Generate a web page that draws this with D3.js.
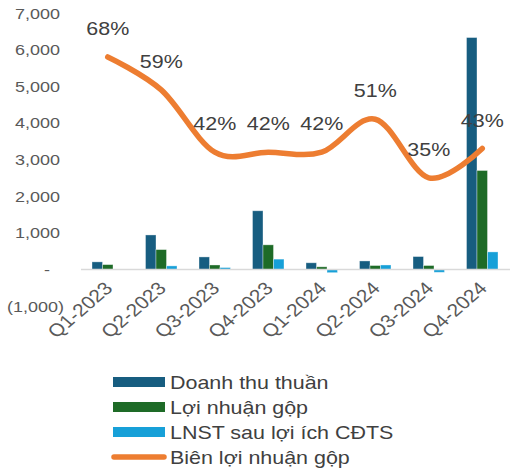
<!DOCTYPE html>
<html>
<head>
<meta charset="utf-8">
<script src="https://cdn.jsdelivr.net/npm/d3@7"></script>
<style>
  body { margin: 0; background: #fff; }
  text { font-family: "Liberation Sans", Arial, sans-serif; }
</style>
</head>
<body>
<div id="chart"></div>
<script>
var w = 511;
var h = 474;

// data
var quarters = ["Q1-2023", "Q2-2023", "Q3-2023", "Q4-2023", "Q1-2024", "Q2-2024", "Q3-2024", "Q4-2024"];
var doanhThu = [205, 940, 340, 1600, 180, 230, 350, 6330];
var loiNhuanGop = [130, 540, 120, 670, 70, 105, 105, 2700];
var lnst = [0, 95, 50, 280, -90, 120, -80, 477];
var bienLN = [0.68, 0.59, 0.42, 0.42, 0.42, 0.51, 0.35, 0.43];
var yTicks = [-1000, 0, 1000, 2000, 3000, 4000, 5000, 6000, 7000];
var seriesNames = ["Doanh thu thuần", "Lợi nhuận gộp", "LNST sau lợi ích CĐTS", "Biên lợi nhuận gộp"];
var colors = ["#175d80", "#1e6b27", "#17a0d8", "#ed7d31"];

var stretch = 1.16; // text in the reference is a bit wide

var svg = d3.select("#chart")
            .append("svg")
            .attr("width", w)
            .attr("height", h);

var x = d3.scaleBand()
          .domain(quarters)
          .range([81, 509]);

var y = d3.scaleLinear()
          .domain([-1000, 7000])
          .range([306, 13]);

var y2 = d3.scaleLinear()
           .domain([0, 0.8])
           .range([306, 13]);

function addText(str, tx, ty, anchor, size, fill, rot) {
  svg.append("text")
     .attr("transform", "translate(" + tx + "," + ty + ") scale(" + stretch + ",1)" + (rot ? " rotate(" + rot + ")" : ""))
     .attr("text-anchor", anchor)
     .attr("font-size", size)
     .attr("fill", fill)
     .text(str);
}

// y tick labels (accounting style)
yTicks.forEach(function(t) {
  var yy = y(t) + 5.5;
  if (t == 0) addText("-", 47, yy, "middle", 15.5, "#595959");
  else if (t < 0) addText("(" + d3.format(",")(-t) + ")", 64, yy, "end", 15.5, "#595959");
  else addText(d3.format(",")(t), 60, yy, "end", 15.5, "#595959");
});

// bars
var series = [doanhThu, loiNhuanGop, lnst];
var barW = 10.5;
series.forEach(function(vals, s) {
  svg.selectAll(".bar" + s)
     .data(vals)
     .enter()
     .append("rect")
     .attr("x", function(d, i) { return x(quarters[i]) + x.bandwidth() / 2 - 1.5 * barW + s * barW; })
     .attr("y", function(d) { return y(Math.max(d, 0)); })
     .attr("width", barW)
     .attr("height", function(d) { return Math.abs(y(d) - y(0)); })
     .attr("fill", colors[s])
     .attr("stroke", "#ffffff")
     .attr("stroke-opacity", 0.45)
     .attr("stroke-width", 0.8);
});

// zero line
svg.append("line")
   .attr("x1", 81).attr("x2", 510)
   .attr("y1", y(0)).attr("y2", y(0))
   .attr("stroke", "#d9d9d9")
   .attr("stroke-width", 1.5);

// x labels
quarters.forEach(function(q) {
  addText(q, x(q) + x.bandwidth() / 2 + 6, y(0) + 20, "end", 18, "#595959", -45);
});

// margin line
var line = d3.line()
             .x(function(d, i) { return x(quarters[i]) + x.bandwidth() / 2; })
             .y(function(d) { return y2(d); })
             .curve(d3.curveCatmullRom.alpha(0));

svg.append("path")
   .datum(bienLN)
   .attr("d", line)
   .attr("fill", "none")
   .attr("stroke", colors[3])
   .attr("stroke-width", 5.5)
   .attr("stroke-linecap", "round");

bienLN.forEach(function(d, i) {
  var cx = Math.min(x(quarters[i]) + x.bandwidth() / 2, 489);
  addText(d3.format(".0%")(d), cx, y2(d) - 22, "middle", 18.5, "#404040");
});

// legend
seriesNames.forEach(function(name, i) {
  var ly = 382 + i * 25;
  if (i < 3) {
    svg.append("rect")
       .attr("x", 113).attr("y", ly - 5)
       .attr("width", 52).attr("height", 10)
       .attr("fill", colors[i]);
  } else {
    svg.append("line")
       .attr("x1", 114).attr("x2", 164)
       .attr("y1", ly).attr("y2", ly)
       .attr("stroke", colors[i])
       .attr("stroke-width", 5.5)
       .attr("stroke-linecap", "round");
  }
  addText(name, 170, ly + 6.5, "start", 18.5, "#404040");
});
</script>
</body>
</html>
